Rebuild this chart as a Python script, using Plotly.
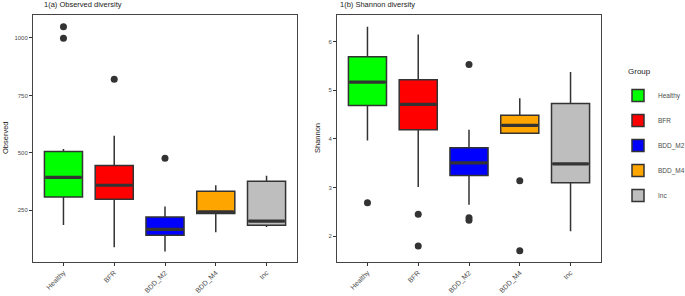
import plotly.graph_objects as go

groups = ["Healthy", "BFR", "BDD_M2", "BDD_M4", "Inc"]
colors = ["#00FF00", "#FF0000", "#0000FF", "#FFA500", "#BEBEBE"]

# Observed diversity (panel a)
obs_q1 = [308, 298, 141, 236, 185]
obs_med = [393, 359, 167, 243, 203]
obs_q3 = [506, 445, 221, 333, 376]
obs_lo = [186, 89, 71, 155, 177]
obs_hi = [517, 574, 267, 359, 400]
obs_out = [[1049, 999], [820], [477], [], []]

# Shannon diversity (panel b)
sha_q1 = [4.69, 4.19, 3.25, 4.12, 3.10]
sha_med = [5.17, 4.71, 3.51, 4.28, 3.49]
sha_q3 = [5.69, 5.22, 3.82, 4.49, 4.73]
sha_lo = [3.97, 3.01, 2.65, 4.12, 2.10]
sha_hi = [6.31, 6.15, 4.19, 4.84, 5.38]
sha_out = [[2.69], [2.45, 1.80], [5.53, 2.38, 2.33], [3.14, 1.70], []]

obs_ticks = [250, 500, 750, 1000]
sha_ticks = [2, 3, 4, 5, 6]

W, H = 685, 296
FONT = "Liberation Sans, Arial, sans-serif"
DARK = "#333333"
BOXW = 0.75

fig = go.Figure()

def add_panel(q1, med, q3, lo, hi, outs, xa, ya, legend):
    for i, g in enumerate(groups):
        x = i + 1
        fig.add_trace(go.Box(
            x=[x], q1=[q1[i]], median=[med[i]], q3=[q3[i]],
            lowerfence=[lo[i]], upperfence=[hi[i]],
            width=BOXW, whiskerwidth=0, boxpoints=False,
            fillcolor=colors[i], line=dict(color=DARK, width=1.5),
            name=g, legendgroup=g, showlegend=legend,
            xaxis=xa, yaxis=ya, hoverinfo="skip"))
        fig.add_trace(go.Scatter(
            x=[x - BOXW / 2 + 0.02, x + BOXW / 2 - 0.02], y=[med[i], med[i]],
            mode="lines", line=dict(color=DARK, width=3.2),
            showlegend=False, xaxis=xa, yaxis=ya, hoverinfo="skip"))
        if outs[i]:
            fig.add_trace(go.Scatter(
                x=[x] * len(outs[i]), y=outs[i], mode="markers",
                marker=dict(color=DARK, size=7), showlegend=False,
                xaxis=xa, yaxis=ya, hoverinfo="skip"))

add_panel(obs_q1, obs_med, obs_q3, obs_lo, obs_hi, obs_out, "x", "y", True)
add_panel(sha_q1, sha_med, sha_q3, sha_lo, sha_hi, sha_out, "x2", "y2", False)

ydom = [1 - 262 / H, 1 - 15 / H]
common_x = dict(
    range=[0.4, 5.6], tickmode="array", tickvals=[1, 2, 3, 4, 5], ticktext=groups,
    tickangle=-45, ticks="outside", ticklen=3, tickcolor=DARK,
    tickfont=dict(size=7, color="#4D4D4D", family=FONT),
    showline=True, mirror=True, linecolor="#444444", linewidth=1,
    showgrid=False, zeroline=False, fixedrange=True, automargin=False)
common_y = dict(
    ticks="outside", ticklen=3, tickcolor=DARK,
    tickfont=dict(size=6, color="#4D4D4D", family=FONT),
    showline=True, mirror=True, linecolor="#444444", linewidth=1,
    showgrid=False, zeroline=False, domain=ydom, fixedrange=True,
    automargin=False)

fig.update_layout(
    width=W, height=H, autosize=False,
    margin=dict(l=0, r=0, t=0, b=0, autoexpand=False),
    paper_bgcolor="white", plot_bgcolor="white",
    font=dict(family=FONT, color=DARK),
    xaxis=dict(domain=[33 / W, 297 / W], anchor="y", **common_x),
    xaxis2=dict(domain=[337 / W, 601 / W], anchor="y2", **common_x),
    yaxis=dict(anchor="x", range=[25, 1100], tickvals=obs_ticks, **common_y),
    yaxis2=dict(anchor="x2", range=[1.47, 6.55], tickvals=sha_ticks, **common_y),
    legend=dict(
        x=618 / W, y=1 - 81 / H, xanchor="left", yanchor="top",
        font=dict(size=6.5, color="#4D4D4D", family=FONT),
        tracegroupgap=6, bgcolor="rgba(0,0,0,0)"),
    showlegend=True,
    annotations=[
        dict(text="1(a) Observed diversity", x=42 / W, y=1 - 5 / H,
             xref="paper", yref="paper", xanchor="left", yanchor="middle",
             showarrow=False, font=dict(size=7.5, color="#222222")),
        dict(text="1(b) Shannon diversity", x=338 / W, y=1 - 5 / H,
             xref="paper", yref="paper", xanchor="left", yanchor="middle",
             showarrow=False, font=dict(size=7.5, color="#222222")),
        dict(text="Observed", x=5 / W, y=1 - 138 / H, textangle=-90,
             xref="paper", yref="paper", xanchor="center", yanchor="middle",
             showarrow=False, font=dict(size=7.5, color="#222222")),
        dict(text="Shannon", x=317 / W, y=1 - 138 / H, textangle=-90,
             xref="paper", yref="paper", xanchor="center", yanchor="middle",
             showarrow=False, font=dict(size=7.5, color="#222222")),
        dict(text="Group", x=626 / W, y=1 - 71 / H,
             xref="paper", yref="paper", xanchor="left", yanchor="middle",
             showarrow=False, font=dict(size=8, color="#222222")),
    ],
)

fig.write_html(
    "out.html",
    config={"displayModeBar": False, "responsive": False},
    default_width="685px", default_height="296px",
    post_script=("document.documentElement.style.overflow='hidden';"
                 "document.body.style.overflow='hidden';"
                 "document.body.style.margin='0';"),
)
